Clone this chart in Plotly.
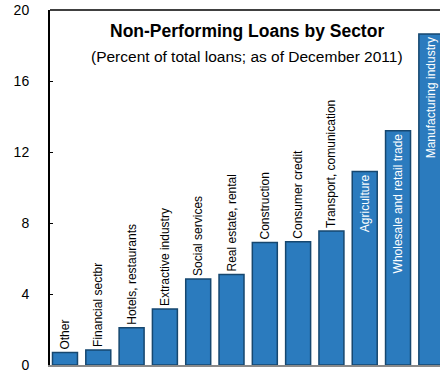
import plotly.graph_objects as go

sectors = ["Other", "Financial sectbr", "Hotels, restaurants", "Extractive industry",
           "Social services", "Real estate, rental", "Construction", "Consumer credit",
           "Transport, comunication", "Agriculture", "Wholesale and retail trade",
           "Manufacturing industry"]
values = [0.7, 0.85, 2.1, 3.15, 4.85, 5.1, 6.9, 6.95, 7.55, 10.9, 13.2, 18.65]
inside_flags = [False] * 9 + [True] * 3
y_ticks = [0, 4, 8, 12, 16, 20]

fig = go.Figure()
fig.add_trace(go.Bar(
    x=list(range(len(sectors))),
    y=values,
    text=sectors,
    textposition=["inside" if f else "outside" for f in inside_flags],
    insidetextanchor="end",
    textangle=-90,
    constraintext="none",
    cliponaxis=False,
    textfont=dict(family="Liberation Sans, Arial, sans-serif", size=12,
                  color=["white" if f else "black" for f in inside_flags]),
    marker=dict(color="#2B7BBE", line=dict(color="#16476f", width=1.5)),
    width=0.75,
    hoverinfo="skip",
))

fig.update_layout(
    width=440, height=373,
    margin=dict(l=50, r=0, t=10, b=8),
    paper_bgcolor="white", plot_bgcolor="white",
    showlegend=False,
    font=dict(family="Liberation Sans, Arial, sans-serif", color="black"),
    xaxis=dict(range=[-0.45, 11.26], showticklabels=False, showgrid=False,
               zeroline=False, showline=True, linecolor="#8a8a8a", linewidth=2,
               ticks=""),
    yaxis=dict(range=[0, 20], tickvals=y_ticks, showgrid=False,
               zeroline=False,
               showline=True, linecolor="black", linewidth=2,
               ticks="inside", ticklen=3, tickcolor="black",
               tickfont=dict(size=14), ticklabelstandoff=16,
               ticklabeloverflow="allow"),
)
# top border of the plot frame
fig.add_shape(type="line", xref="x domain", yref="y domain",
              x0=0, x1=1, y0=1, y1=1, line=dict(color="#404040", width=2))

fig.add_annotation(text="<b>Non-Performing Loans by Sector</b>",
                   x=(247 - 50) / 390, y=1 - (31 - 10) / 355,
                   xref="x domain", yref="y domain", xanchor="center", yanchor="middle",
                   showarrow=False, font=dict(size=17.5))
fig.add_annotation(text="(Percent of total loans; as of December 2011)",
                   x=(247 - 50) / 390, y=1 - (56 - 10) / 355,
                   xref="x domain", yref="y domain", xanchor="center", yanchor="middle",
                   showarrow=False, font=dict(size=15.5))

fig.write_html("out.html")
